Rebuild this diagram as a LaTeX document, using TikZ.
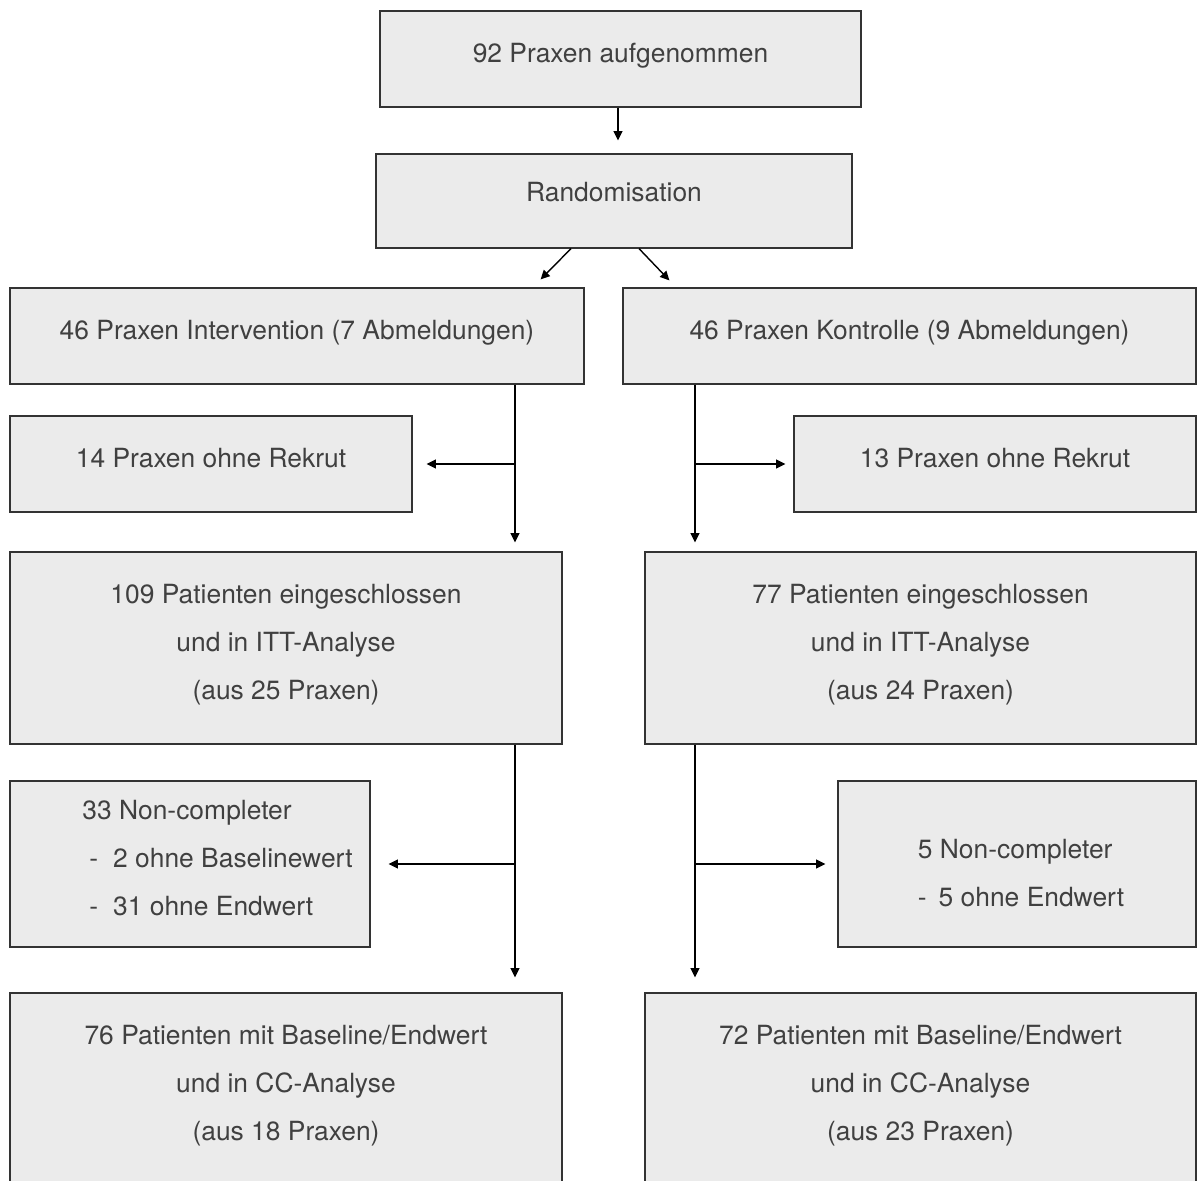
\documentclass[tikz,border=0pt]{standalone}
\usepackage{fontspec}
\setmainfont{TeX Gyre Heros}
\usepackage{tikz}
\usetikzlibrary{arrows.meta,calc}

% invisible struts that move the text of a box up (depth) or down (height)
\def\lift#1{\rule[-#1]{0pt}{0pt}}
\def\sink#1{\rule{0pt}{#1}}

\tikzset{
  box/.style={draw=black!80,line width=0.6pt,fill=black!8,text=black!75,
    font=\fontsize{13.2}{24}\selectfont,align=center,inner sep=0pt},
  dims/.style 2 args={minimum width=#1*0.5pt,minimum height=#2*0.5pt},
  oneline/.style={text height=9pt,text depth=6pt},
  link/.style={line width=0.7pt,->}
}

\begin{document}
\begin{tikzpicture}[x=0.5pt,y=-0.5pt,>={Triangle[length=4.6pt,width=4.4pt]}]
\clip (0,0) rectangle (1197,1180);

% boxes
\node[box,oneline,dims={481}{96}] (aufg) at (620.5,59) {92 Praxen aufgenommen};
\node[box,oneline,text depth=9pt,dims={476}{94}] (rand) at (614,201) {Randomisation};

\node[box,oneline,dims={574}{96}] (interv) at (297,336) {46 Praxen Intervention (7 Abmeldungen)};
\node[box,oneline,dims={573}{96}] (kontr) at (909.5,336) {46 Praxen Kontrolle (9 Abmeldungen)};

\node[box,oneline,dims={402}{96}] (ohneL) at (211,464) {14 Praxen ohne Rekrut};
\node[box,oneline,dims={402}{96}] (ohneR) at (995,464) {13 Praxen ohne Rekrut};

\node[box,dims={552}{192}] (ittL) at (286,648) {109 Patienten eingeschlossen\\und in ITT-Analyse\\(aus 25 Praxen)\lift{6.5pt}};
\node[box,dims={551}{192}] (ittR) at (920.5,648) {77 Patienten eingeschlossen\\und in ITT-Analyse\\(aus 24 Praxen)\lift{6.5pt}};

\node[box,align=left,dims={360}{166}] (ncL) at (190,864) {\hspace*{27.5pt}33 Non-completer\\
  \hspace*{31pt}-\hspace{7.5pt}2 ohne Baselinewert\\
  \hspace*{31pt}-\hspace{7.5pt}31 ohne Endwert\lift{6pt}};
\node[box,align=left,dims={358}{166}] (ncR) at (1017,864) {\sink{18.5pt}\hspace*{4pt}5 Non-completer\\
  \hspace*{4pt}-\hspace{6pt}5 ohne Endwert};

\node[box,dims={552}{192}] (ccL) at (286,1089) {76 Patienten mit Baseline/Endwert\\und in CC-Analyse\\(aus 18 Praxen)\lift{6.5pt}};
\node[box,dims={551}{192}] (ccR) at (920.5,1089) {72 Patienten mit Baseline/Endwert\\und in CC-Analyse\\(aus 23 Praxen)\lift{6.5pt}};

% arrows
\draw[link,shorten >=6.5pt] ($(aufg.south)+(-2.5,0)$) -- ($(aufg.south |- rand.north)+(-2.5,0)$);
\draw[link] ($(rand.south)+(-43,0)$) -- ($(interv.north east)+(-44,-8)$);
\draw[link] ($(rand.south)+(25,0)$) -- ($(kontr.north west)+(47,-7)$);

\coordinate (spineL) at (515,0);
\coordinate (spineR) at (695,0);

\draw[link,shorten >=4.5pt] (interv.south -| spineL) -- (ittL.north -| spineL);
\draw[link,shorten >=7pt] (spineL |- ohneL.east) -- (ohneL.east);
\draw[link,shorten >=4.5pt] (kontr.south -| spineR) -- (ittR.north -| spineR);
\draw[link,shorten >=4pt] (spineR |- ohneR.west) -- (ohneR.west);

\draw[link,shorten >=7.5pt] (ittL.south -| spineL) -- (ccL.north -| spineL);
\draw[link,shorten >=9pt] (spineL |- ncL.east) -- (ncL.east);
\draw[link,shorten >=7.5pt] (ittR.south -| spineR) -- (ccR.north -| spineR);
\draw[link,shorten >=6pt] (spineR |- ncR.west) -- (ncR.west);

\end{tikzpicture}
\end{document}
